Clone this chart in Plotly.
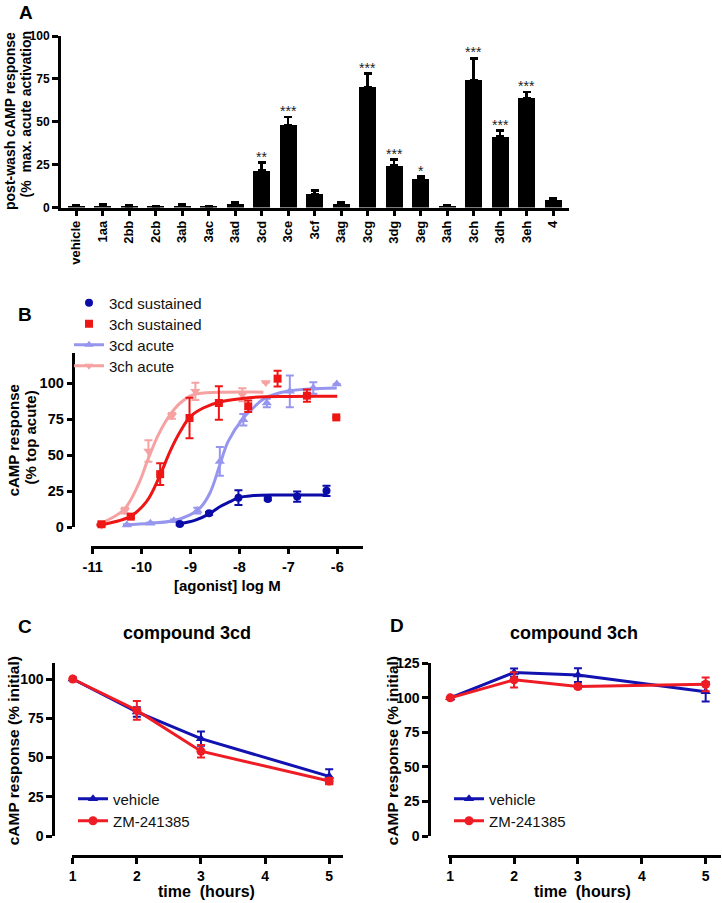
import plotly.graph_objects as go

W, H = 722, 903
def X(p): return p / W
def Y(p): return 1 - p / H

FONT = "Arial, 'Liberation Sans', sans-serif"

# ---------------- Panel A data ----------------
categories = ["vehicle", "1aa", "2bb", "2cb", "3ab", "3ac", "3ad", "3cd", "3ce", "3cf",
              "3ag", "3cg", "3dg", "3eg", "3ah", "3ch", "3dh", "3eh", "4"]
a_means = [0.8, 1.0, 0.7, 0.4, 1.0, 0.3, 2.2, 21.5, 47.9, 7.7,
           2.0, 70.4, 24.4, 16.8, 0.8, 74.2, 41.3, 63.7, 4.4]
a_sem = [0.3, 0.8, 0.4, 0.2, 0.7, 0.2, 0.8, 4.6, 5.0, 2.3,
         0.8, 7.6, 3.5, 1.2, 0.4, 12.8, 3.5, 3.6, 1.1]
a_stars = ["", "", "", "", "", "", "", "**", "***", "",
           "", "***", "***", "*", "", "***", "***", "***", ""]
a_yticks = [0, 25, 50, 75, 100]

# ---------------- Panel B data ----------------
cd_sus_x = [-9.22, -8.62, -8.02, -7.42, -6.82, -6.22]
cd_sus_y = [2.3, 9.7, 20.6, 19.7, 21.3, 25.3]
cd_sus_e = [0.8, 1.0, 5.2, 1.0, 3.5, 3.5]

ch_sus_x = [-10.82, -10.22, -9.62, -9.02, -8.42, -7.82, -7.22, -6.62, -6.02]
ch_sus_y = [2.1, 7.4, 36.9, 75.9, 86.3, 84.0, 103.2, 91.4, 76.3]
ch_sus_e = [1.0, 1.0, 7.5, 14.0, 11.6, 4.0, 5.5, 4.3, 0.0]

cd_ac_x = [-10.3, -9.82, -9.34, -8.86, -8.4, -7.92, -7.44, -6.97, -6.49, -6.01]
cd_ac_y = [1.6, 2.8, 4.6, 11.6, 45.7, 74.7, 86.3, 94.4, 96.7, 99.5]
cd_ac_e = [0.5, 0.5, 0.8, 2.0, 10.0, 4.0, 3.0, 11.0, 4.0, 0.0]

ch_ac_x = [-10.82, -10.34, -9.86, -9.38, -8.9, -7.94, -7.46]
ch_ac_y = [1.5, 11.6, 53.0, 77.4, 94.4, 92.0, 100.6]
ch_ac_e = [0.5, 2.0, 7.5, 2.0, 6.0, 4.5, 0.0]

# fitted curves
cd_sus_fit_x = [-9.25, -8.9, -8.6, -8.4, -8.19, -8.02, -7.72, -7.2, -6.21]
cd_sus_fit_y = [2.3, 5.0, 9.7, 14.3, 17.8, 20.6, 22.0, 22.4, 22.5]
ch_sus_fit_x = [-10.92, -10.24, -9.9, -9.62, -9.42, -9.21, -9.0, -8.74, -8.4, -7.8, -7.0, -6.0]
ch_sus_fit_y = [1.2, 7.4, 17.8, 36.4, 52.6, 66.5, 77.0, 82.8, 87.0, 90.0, 90.8, 90.9]
cd_ac_fit_x = [-10.34, -9.83, -9.35, -9.01, -8.81, -8.6, -8.4, -8.23, -7.92, -7.72, -7.51, -7.03, -6.01]
cd_ac_fit_y = [1.6, 2.8, 4.6, 8.6, 13.2, 24.0, 43.4, 59.6, 75.9, 82.8, 89.0, 94.4, 96.7]
ch_ac_fit_x = [-10.92, -10.37, -10.07, -9.86, -9.66, -9.42, -9.21, -8.94, -8.4, -7.51]
ch_ac_fit_y = [1.5, 12.0, 29.4, 48.0, 64.0, 78.0, 86.3, 92.0, 93.7, 93.8]

b_xticks = [-11, -10, -9, -8, -7, -6]
b_xticktext = ["-11", "-10", "-9", "-8", "-7", "-6"]
b_yticks = [0, 25, 50, 75, 100]

# ---------------- Panels C / D data ----------------
times = [1, 2, 3, 5]
c_veh = [100, 79, 62, 38]
c_veh_e = [1.0, 3.0, 4.5, 4.5]
c_zm = [100, 80, 54, 35]
c_zm_e = [1.0, 6.0, 4.0, 2.0]
d_veh = [100, 118.3, 116.5, 104.4]
d_veh_e = [1.5, 3.0, 5.0, 7.0]
d_zm = [100, 113, 108.2, 109.8]
d_zm_e = [1.5, 5.5, 1.5, 5.0]
cd_xticks = [1, 2, 3, 4, 5]
c_yticks = [0, 25, 50, 75, 100]
d_yticks = [0, 25, 50, 75, 100, 125]

DBLUE = "#0b0ba8"
RED = "#ee1515"
LBLUE = "#9696ee"
PINK = "#f6a2a2"
CBLUE = "#1212b0"
CRED = "#ee1c24"

fig = go.Figure()

# ---- A ----
fig.add_trace(go.Bar(
    x=categories, y=a_means, xaxis="x", yaxis="y", width=0.64,
    marker=dict(color="black", line=dict(width=0)),
    error_y=dict(type="data", array=a_sem, arrayminus=[0] * len(a_sem), symmetric=False,
                 color="black", thickness=2.5, width=4),
    showlegend=False))

# ---- B ----
def err(arr, color):
    return dict(type="data", array=arr, color=color, thickness=2, width=4)

fig.add_trace(go.Scatter(x=ch_ac_fit_x, y=ch_ac_fit_y, mode="lines", line=dict(color=PINK, width=3, shape="spline"),
                         xaxis="x2", yaxis="y2", showlegend=False, cliponaxis=False))
fig.add_trace(go.Scatter(x=ch_ac_x, y=ch_ac_y, mode="markers", marker=dict(symbol="triangle-down", size=9, color=PINK),
                         error_y=err(ch_ac_e, PINK), xaxis="x2", yaxis="y2", showlegend=False, cliponaxis=False))
fig.add_trace(go.Scatter(x=cd_ac_fit_x, y=cd_ac_fit_y, mode="lines", line=dict(color=LBLUE, width=3, shape="spline"),
                         xaxis="x2", yaxis="y2", showlegend=False, cliponaxis=False))
fig.add_trace(go.Scatter(x=cd_ac_x, y=cd_ac_y, mode="markers", marker=dict(symbol="triangle-up", size=9, color=LBLUE),
                         error_y=err(cd_ac_e, LBLUE), xaxis="x2", yaxis="y2", showlegend=False, cliponaxis=False))
fig.add_trace(go.Scatter(x=ch_sus_fit_x, y=ch_sus_fit_y, mode="lines", line=dict(color=RED, width=3, shape="spline"),
                         xaxis="x2", yaxis="y2", showlegend=False, cliponaxis=False))
fig.add_trace(go.Scatter(x=ch_sus_x, y=ch_sus_y, mode="markers", name="3ch sustained", legend="legend2",
                         marker=dict(symbol="square", size=8, color=RED),
                         error_y=err(ch_sus_e, RED), xaxis="x2", yaxis="y2", cliponaxis=False))
fig.add_trace(go.Scatter(x=cd_sus_fit_x, y=cd_sus_fit_y, mode="lines", line=dict(color=DBLUE, width=3, shape="spline"),
                         xaxis="x2", yaxis="y2", showlegend=False, cliponaxis=False))
fig.add_trace(go.Scatter(x=cd_sus_x, y=cd_sus_y, mode="markers", name="3cd sustained", legend="legend",
                         marker=dict(symbol="circle", size=8, color=DBLUE),
                         error_y=err(cd_sus_e, DBLUE), xaxis="x2", yaxis="y2", cliponaxis=False))
# legend-only entries for the acute datasets (line + symbol)
fig.add_trace(go.Scatter(x=[None], y=[None], mode="lines+markers", name="3cd acute", legend="legend3",
                         line=dict(color=LBLUE, width=3), marker=dict(symbol="triangle-up", size=8, color=LBLUE),
                         xaxis="x2", yaxis="y2"))
fig.add_trace(go.Scatter(x=[None], y=[None], mode="lines+markers", name="3ch acute", legend="legend4",
                         line=dict(color=PINK, width=3), marker=dict(symbol="triangle-down", size=8, color=PINK),
                         xaxis="x2", yaxis="y2"))

# ---- C ----
fig.add_trace(go.Scatter(x=times, y=c_veh, mode="lines+markers", name="vehicle", legend="legend5",
                         line=dict(color=CBLUE, width=3), marker=dict(symbol="triangle-up", size=9, color=CBLUE),
                         error_y=err(c_veh_e, CBLUE), xaxis="x3", yaxis="y3", cliponaxis=False))
fig.add_trace(go.Scatter(x=times, y=c_zm, mode="lines+markers", name="ZM-241385", legend="legend6",
                         line=dict(color=CRED, width=3), marker=dict(symbol="circle", size=9, color=CRED),
                         error_y=err(c_zm_e, CRED), xaxis="x3", yaxis="y3", cliponaxis=False))
# ---- D ----
fig.add_trace(go.Scatter(x=times, y=d_veh, mode="lines+markers", name="vehicle", legend="legend7",
                         line=dict(color=CBLUE, width=3), marker=dict(symbol="triangle-up", size=9, color=CBLUE),
                         error_y=err(d_veh_e, CBLUE), xaxis="x4", yaxis="y4", cliponaxis=False))
fig.add_trace(go.Scatter(x=times, y=d_zm, mode="lines+markers", name="ZM-241385", legend="legend8",
                         line=dict(color=CRED, width=3), marker=dict(symbol="circle", size=9, color=CRED),
                         error_y=err(d_zm_e, CRED), xaxis="x4", yaxis="y4", cliponaxis=False))

def ax(**kw):
    base = dict(showline=True, linecolor="black", linewidth=3, ticks="outside", tickwidth=2.5,
                ticklen=6, tickcolor="black", showgrid=False, zeroline=False, fixedrange=True,
                automargin=False, tickfont=dict(family=FONT, size=14, color="black", weight="bold"))
    base.update(kw)
    return base

def leg(px, py):
    return dict(x=X(px), y=Y(py), xanchor="left", yanchor="middle", bgcolor="rgba(0,0,0,0)",
                font=dict(family=FONT, size=15, color="#111"), tracegroupgap=0, itemwidth=30, borderwidth=0)

fig.update_layout(
    width=W, height=H, margin=dict(l=0, r=0, t=0, b=0, pad=0),
    plot_bgcolor="white", paper_bgcolor="white", bargap=0,
    font=dict(family=FONT, color="black"),
    xaxis=ax(domain=[X(61), X(569)], anchor="y", type="category", range=[-0.57, 18.6], tickangle=-90,
             ticklen=5, tickfont=dict(family=FONT, size=13, color="black", weight="bold")),
    yaxis=ax(domain=[Y(207.5), Y(36)], anchor="x", range=[0, 100], tickvals=a_yticks,
             tickfont=dict(family=FONT, size=12, color="black", weight="bold")),
    xaxis2=ax(domain=[X(90.7), X(362.7)], anchor="free", position=Y(547.3), range=[-11.04, -5.48],
              tickvals=b_xticks, ticktext=b_xticktext, ticklen=5,
              tickfont=dict(family=FONT, size=14.5, color="black", weight="bold")),
    yaxis2=ax(domain=[Y(527.3), Y(353)], anchor="free", position=X(72.7), range=[0, 121], tickvals=b_yticks,
              ticklen=5, tickfont=dict(family=FONT, size=14.5, color="black", weight="bold")),
    xaxis3=ax(domain=[X(71.7), X(343.3)], anchor="free", position=Y(856), range=[0.984, 5.22], tickvals=cd_xticks),
    yaxis3=ax(domain=[Y(836), Y(663.3)], anchor="free", position=X(53.3), range=[0, 110], tickvals=c_yticks),
    xaxis4=ax(domain=[X(448.3), X(721)], anchor="free", position=Y(856), range=[0.97, 5.24], tickvals=cd_xticks),
    yaxis4=ax(domain=[Y(836), Y(663.3)], anchor="free", position=X(429.3), range=[0, 125], tickvals=d_yticks),
    legend=leg(69, 303),
    legend2=leg(69, 324),
    legend3=leg(69, 345),
    legend4=leg(69, 366),
    legend5=leg(73, 799),
    legend6=leg(73, 821),
    legend7=leg(449, 799),
    legend8=leg(449, 821),
)

# significance stars
for cat, m, e, s in zip(categories, a_means, a_sem, a_stars):
    if s:
        fig.add_annotation(x=cat, y=m + e, xref="x", yref="y", text=s, showarrow=False,
                           yanchor="middle", yshift=6, font=dict(family=FONT, size=14, color="#222"))

def pa(text, px, py, size, bold=True, angle=0, yanchor="middle"):
    fig.add_annotation(x=X(px), y=Y(py), xref="paper", yref="paper", text=text, showarrow=False,
                       xanchor="center", yanchor=yanchor, textangle=angle,
                       font=dict(family=FONT, size=size, color="black", weight="bold" if bold else "normal"))

pa("A", 25.5, 13, 19)
pa("B", 25, 315, 19)
pa("C", 24.5, 626.5, 19)
pa("D", 397, 625.5, 19)
pa("post-wash cAMP response", 10, 121, 14, angle=-90)
pa("(%\u00a0 max. acute activation", 25, 114.5, 14, angle=-90)
pa("cAMP response", 13.3, 440, 15, angle=-90)
pa("(% top acute)", 30, 437.5, 15, angle=-90)
pa("[agonist] log M", 227, 585, 15)
pa("compound 3cd", 186.7, 633, 18)
pa("compound 3ch", 574.3, 633, 18)
pa("cAMP response (% initial)", 13.3, 751, 15.5, angle=-90)
pa("cAMP response (% initial)", 392.7, 750.5, 15.5, angle=-90)
pa("time\u00a0 (hours)", 206.7, 902, 16, yanchor="bottom")
pa("time\u00a0 (hours)", 582.7, 902, 16, yanchor="bottom")

fig.write_html("out.html", config={"displayModeBar": False},
               post_script="document.body.style.margin='0';document.body.style.overflow='hidden';")
